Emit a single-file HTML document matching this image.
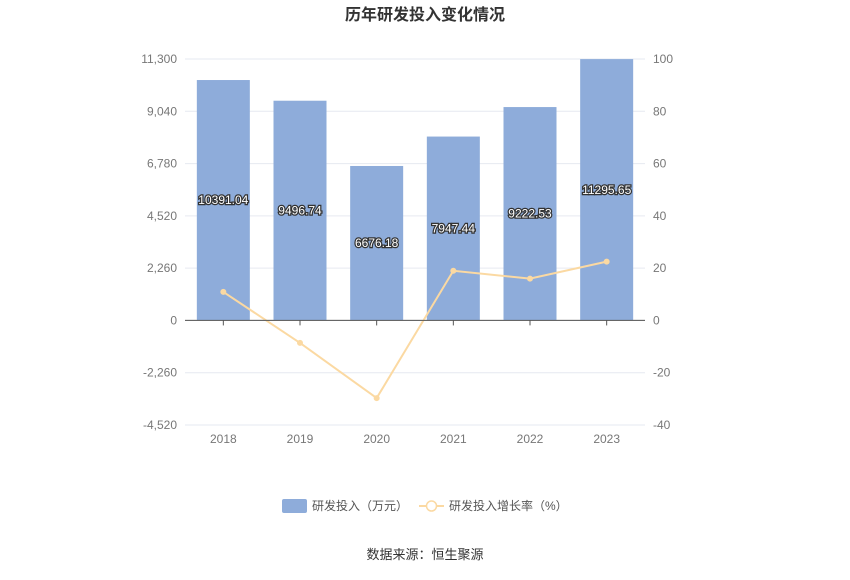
<!DOCTYPE html>
<html><head><meta charset="utf-8"><style>
body{margin:0;background:#fff;font-family:"Liberation Sans","Noto Sans CJK SC",sans-serif;}
svg text{font-family:"Liberation Sans","Noto Sans CJK SC",sans-serif;}
</style></head><body>
<svg id="chart" width="850" height="575" xmlns="http://www.w3.org/2000/svg">
<text x="425" y="20" text-anchor="middle" font-size="16" font-weight="bold" fill="#333">历年研发投入变化情况</text>
<g id="grid"></g><g id="bars"></g><g id="line"></g><g id="labels"></g><g id="axes"></g>
<g>
<rect x="282" y="499" width="25" height="14" rx="2" fill="#8eacda"/>
<text x="312" y="510" font-size="12" fill="#555">研发投入（万元）</text>
<line x1="419" y1="506" x2="444" y2="506" stroke="#fbd9a2" stroke-width="2"/>
<circle cx="431.5" cy="506" r="5" fill="#fff" stroke="#fbd9a2" stroke-width="1.5"/>
<text x="449" y="510" font-size="12" fill="#555">研发投入增长率（%）</text>
</g>
<text x="425" y="559" text-anchor="middle" font-size="13" fill="#333">数据来源：恒生聚源</text>
</svg>
<script>
const categories=["2018","2019","2020","2021","2022","2023"];
const rdValues=[10391.04,9496.74,6676.18,7947.44,9222.53,11295.65];
const growthValues=[10.9,-8.6,-29.7,19.0,16.0,22.5];
const leftTicks=[11300,9040,6780,4520,2260,0,-2260,-4520];
const rightTicks=[100,80,60,40,20,0,-20,-40];
const NS="http://www.w3.org/2000/svg";
const X0=185,X1=645,Y0=59,Y1=425;
const yL=v=>Y0+(11300-v)/(11300+4520)*(Y1-Y0);
const yR=v=>Y0+(100-v)/140*(Y1-Y0);
const bw=(X1-X0)/categories.length;
const xc=i=>X0+bw*(i+0.5);
function mk(tag,attrs,parent,txt){const e=document.createElementNS(NS,tag);for(const k in attrs)e.setAttribute(k,attrs[k]);if(txt!==undefined)e.textContent=txt;document.getElementById(parent).appendChild(e);return e;}
const fmt=v=>v.toLocaleString("en-US");
leftTicks.forEach((t,i)=>{
 const y=yL(t);
 const g=mk("line",{x1:X0,x2:X1,y1:y,y2:y,stroke:t===0?"#ccc":"#e6e9f0","stroke-width":1},"grid");
 
 
 const l=mk("text",{x:X0-8,y:y+4,"text-anchor":"end","font-size":12,fill:"#777"},"axes",fmt(t));
 
 
});
rightTicks.forEach(t=>{
 const r=mk("text",{x:X1+8,y:yR(t)+4,"text-anchor":"start","font-size":12,fill:"#777"},"axes",String(t));
 
 
});
const ax=mk("line",{x1:X0,x2:X1,y1:yL(0),y2:yL(0),stroke:"#555","stroke-width":1},"axes");


categories.forEach((c,i)=>{
 const tk=mk("line",{x1:xc(i),x2:xc(i),y1:yL(0),y2:yL(0)+5,stroke:"#555"},"axes");
 
 
 const t=mk("text",{x:xc(i),y:443,"text-anchor":"middle","font-size":12,fill:"#777"},"axes",c);
 
 
 const v=rdValues[i],top=yL(v);
 const b=mk("rect",{x:xc(i)-26.5,y:top,width:53,height:yL(0)-top,fill:"#8eacda"},"bars");
 
 
 const lb=mk("text",{x:xc(i),y:(top+yL(0))/2+4,"text-anchor":"middle","font-size":12,fill:"#fff",stroke:"#333","stroke-width":2.5,"paint-order":"stroke"},"labels",v.toFixed(2));
 
 
});
const pts=growthValues.map((g,i)=>xc(i)+","+yR(g)).join(" ");
const pl=mk("polyline",{points:pts,fill:"none",stroke:"#fbd9a2","stroke-width":2},"line");


growthValues.forEach((g,i)=>{
 const p=mk("circle",{cx:xc(i),cy:yR(g),r:2.5,fill:"#fbd9a2",stroke:"#fbd9a2"},"line");
 
 
});
</script>
</body></html>
